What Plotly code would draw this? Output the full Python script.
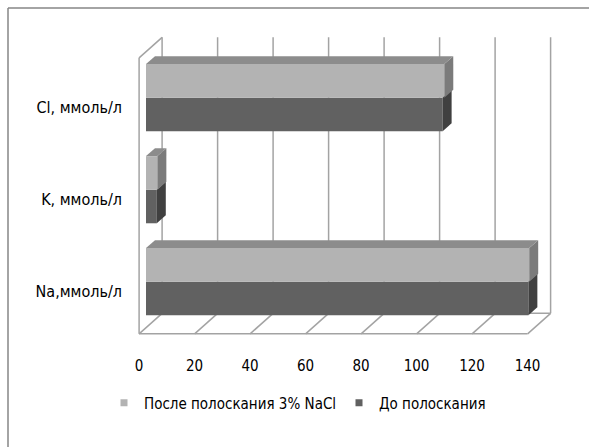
import plotly.graph_objects as go

# ---- data ----
categories = ["Na,ммоль/л", "K, ммоль/л", "Cl, ммоль/л"]
before_rinse = [137.8, 3.9, 106.9]   # До полоскания
after_rinse = [138.1, 4.1, 107.5]    # После полоскания 3% NaCl
series_names = ["До полоскания", "После полоскания 3% NaCl"]
tick_values = [0, 20, 40, 60, 80, 100, 120, 140]

# ---- layout geometry (pixels) ----
W, H = 589, 447
PL, PR, PT, PB = 130, 560, 30, 340
X0PX, KX = 146.0, 2.775      # pixel of value 0, px per unit
Y0PX, KY = 281.7, 92.0       # pixel of first category, px per category
xr = [(PL - X0PX) / KX, (PR - X0PX) / KX]
yr = [(Y0PX - PB) / KY, (Y0PX - PT) / KY]
BARGAP = 0.27
HALF = (1 - BARGAP) / 2

# 3D depth (px, right / up)
DEPTH = (23.0, 20.5)
FRONT_FRAC = 0.3
BAR_FRAC = 0.39


def ddx(px):
    return px / KX


def ddy(px):
    return px / KY


fx, fy = ddx(-FRONT_FRAC * DEPTH[0]), ddy(-FRONT_FRAC * DEPTH[1])
bx, by = ddx((1 - FRONT_FRAC) * DEPTH[0]), ddy((1 - FRONT_FRAC) * DEPTH[1])
tx, ty = ddx(BAR_FRAC * DEPTH[0]), ddy(BAR_FRAC * DEPTH[1])

FONT = "DejaVu Sans Condensed, Liberation Sans Narrow, sans-serif"
GRID = dict(color="#a3a3a3", width=1.5)
LIGHT, DARK = "#b3b3b3", "#616161"
LIGHT_TOP, LIGHT_SIDE, DARK_SIDE = "#8c8c8c", "#7b7b7b", "#404040"

fig = go.Figure()
fig.add_trace(go.Bar(y=categories, x=before_rinse, name=series_names[0], orientation="h",
                     marker=dict(color=DARK, line=dict(width=0)), showlegend=False))
fig.add_trace(go.Bar(y=categories, x=after_rinse, name=series_names[1], orientation="h",
                     marker=dict(color=LIGHT, line=dict(width=0)), showlegend=False))
# legend entries (small square swatches like the original)
for name, col in [(series_names[1], LIGHT), (series_names[0], DARK)]:
    fig.add_trace(go.Scatter(x=[None], y=[None], mode="markers", name=name,
                             marker=dict(symbol="square", size=7, color=col),
                             showlegend=True, hoverinfo="skip"))

shapes = []
lo, hi = -0.5, len(categories) - 0.5
xmin, xmax = tick_values[0], tick_values[-1]


def line(x0, y0, x1, y1, layer="below"):
    shapes.append(dict(type="line", xref="x", yref="y", x0=x0, y0=y0, x1=x1, y1=y1,
                       line=GRID, layer=layer))


# back wall gridlines and floor diagonals
for t in tick_values:
    line(t + bx, lo + by, t + bx, hi + by)
    line(t + fx, lo + fy, t + bx, lo + by)
# floor edges
line(xmin + fx, lo + fy, xmax + fx, lo + fy)
line(xmin + bx, lo + by, xmax + bx, lo + by)
# left wall
line(xmin + fx, lo + fy, xmin + fx, hi + fy)
line(xmin + fx, hi + fy, xmin + bx, hi + by)


def poly(pts, color):
    d = "M " + " L ".join(f"{x:.4f},{y:.4f}" for x, y in pts) + " Z"
    shapes.append(dict(type="path", xref="x", yref="y", path=d, fillcolor=color,
                       line=dict(width=0), layer="above"))


for i, (b, a) in enumerate(zip(before_rinse, after_rinse)):
    poly([(b, i - HALF), (b, i), (b + tx, i + ty), (b + tx, i - HALF + ty)], DARK_SIDE)
    poly([(a, i), (a, i + HALF), (a + tx, i + HALF + ty), (a + tx, i + ty)], LIGHT_SIDE)
    poly([(0, i + HALF), (a, i + HALF), (a + tx, i + HALF + ty), (tx, i + HALF + ty)], LIGHT_TOP)

# outer frame (left + top)
pw, ph = PR - PL, PB - PT


def px2paper(x, y):
    return (x - PL) / pw, (PB - y) / ph


fl, ft = px2paper(8, 8)
fr, fb = px2paper(W + 5, H + 5)
shapes.append(dict(type="line", xref="paper", yref="paper", x0=fl, y0=ft, x1=fr, y1=ft,
                   line=dict(color="#868686", width=1.5)))
shapes.append(dict(type="line", xref="paper", yref="paper", x0=fl, y0=ft, x1=fl, y1=fb,
                   line=dict(color="#868686", width=1.5)))

leg_x, leg_y = px2paper(104, 403)

fig.update_layout(
    width=W, height=H,
    margin=dict(l=PL, r=W - PR, t=PT, b=H - PB, pad=0),
    paper_bgcolor="white", plot_bgcolor="white",
    barmode="group", bargap=BARGAP, bargroupgap=0,
    font=dict(family=FONT, size=15, color="#000000"),
    showlegend=True,
    legend=dict(orientation="h", traceorder="normal", x=leg_x, xanchor="left",
                y=leg_y, yanchor="middle", font=dict(size=15), itemwidth=30,
                entrywidth=190, entrywidthmode="pixels", bgcolor="rgba(0,0,0,0)"),
    xaxis=dict(range=xr, tickvals=tick_values, showgrid=False, zeroline=False,
               showline=False, ticks="", ticklabelshift=-7, ticklabelstandoff=15,
               tickfont=dict(size=15)),
    yaxis=dict(type="category", categoryorder="array", categoryarray=categories,
               range=yr, showgrid=False, zeroline=False, showline=False, ticks="",
               ticklabelshift=10, ticklabelstandoff=7, tickfont=dict(size=16)),
    shapes=shapes,
)

fig.write_html("out.html", config={"displayModeBar": False},
               post_script="document.body.style.margin='0px';document.body.style.overflow='hidden';")
